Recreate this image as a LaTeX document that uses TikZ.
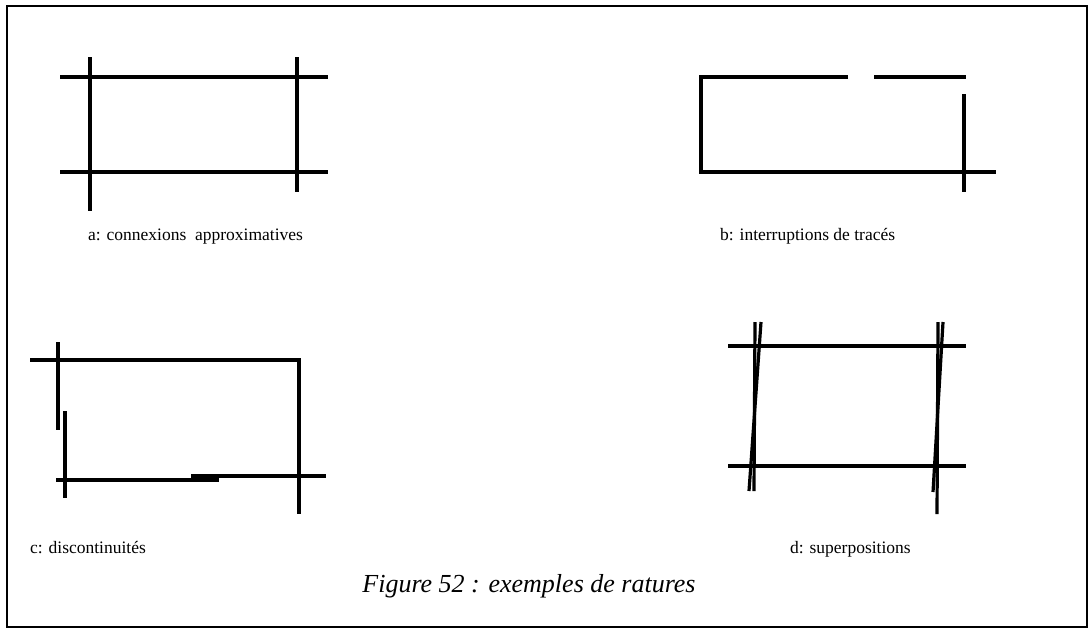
\documentclass[tikz,border=0pt]{standalone}
\usepackage{fontspec}
\setmainfont{Liberation Serif}
\usepackage{tikz}
\usetikzlibrary{positioning}
\tikzset{
  cadre/.style   = {draw=black, line width=1.2pt},
  trait/.style   = {draw=black, line width=3.2pt},
  legende/.style = {anchor=base west, inner sep=0pt, font=\fontsize{17.5}{20}\selectfont},
  titre/.style   = {anchor=base, inner sep=0pt, font=\fontsize{26}{30}\selectfont\itshape},
}
\begin{document}
\begin{tikzpicture}[x=1pt, y=-1pt]

\useasboundingbox (0,0) rectangle (1091,630);
\draw[cadre] (7,6) rectangle (1087,627);

% a: connexions approximatives
\draw[trait] (60,77) -- (328,77);
\draw[trait] (60,172) -- (328,172);
\draw[trait] (90,57) -- (90,211);
\draw[trait] (297,57) -- (297,192);
\node[legende] (lega) at (88,240) {a: connexions\ \ approximatives};

% b: interruptions de traces
\draw[trait] (848,77) -- (701,77) -- (701,172) -- (996,172);
\draw[trait] (874,77) -- (966,77);
\draw[trait] (964,94) -- (964,192);
\node[legende] (legb) at (720,240) {b: interruptions de tracés};

% c: discontinuites
\draw[trait] (30,360) -- (299,360) -- (299,514);
\draw[trait] (58,342) -- (58,430);
\draw[trait] (65,411) -- (65,498);
\draw[trait] (56,480) -- (219,480);
\draw[trait] (191,476) -- (326,476);
\node[legende] (legc) at (30,553) {c: discontinuités};

% d: superpositions
\draw[trait] (728,346) -- (966,346);
\draw[trait] (728,466) -- (966,466);
\draw[trait] (755,322) -- (754,491);
\draw[trait] (761,322) -- (749,491);
\draw[trait] (938,322) -- (937,514);
\draw[trait] (943,322) -- (933,492);
\node[legende] (legd) at (790,553) {d: superpositions};

\node[titre] (fig) at (529,592) {Figure 52 : exemples de ratures};

\end{tikzpicture}
\end{document}
